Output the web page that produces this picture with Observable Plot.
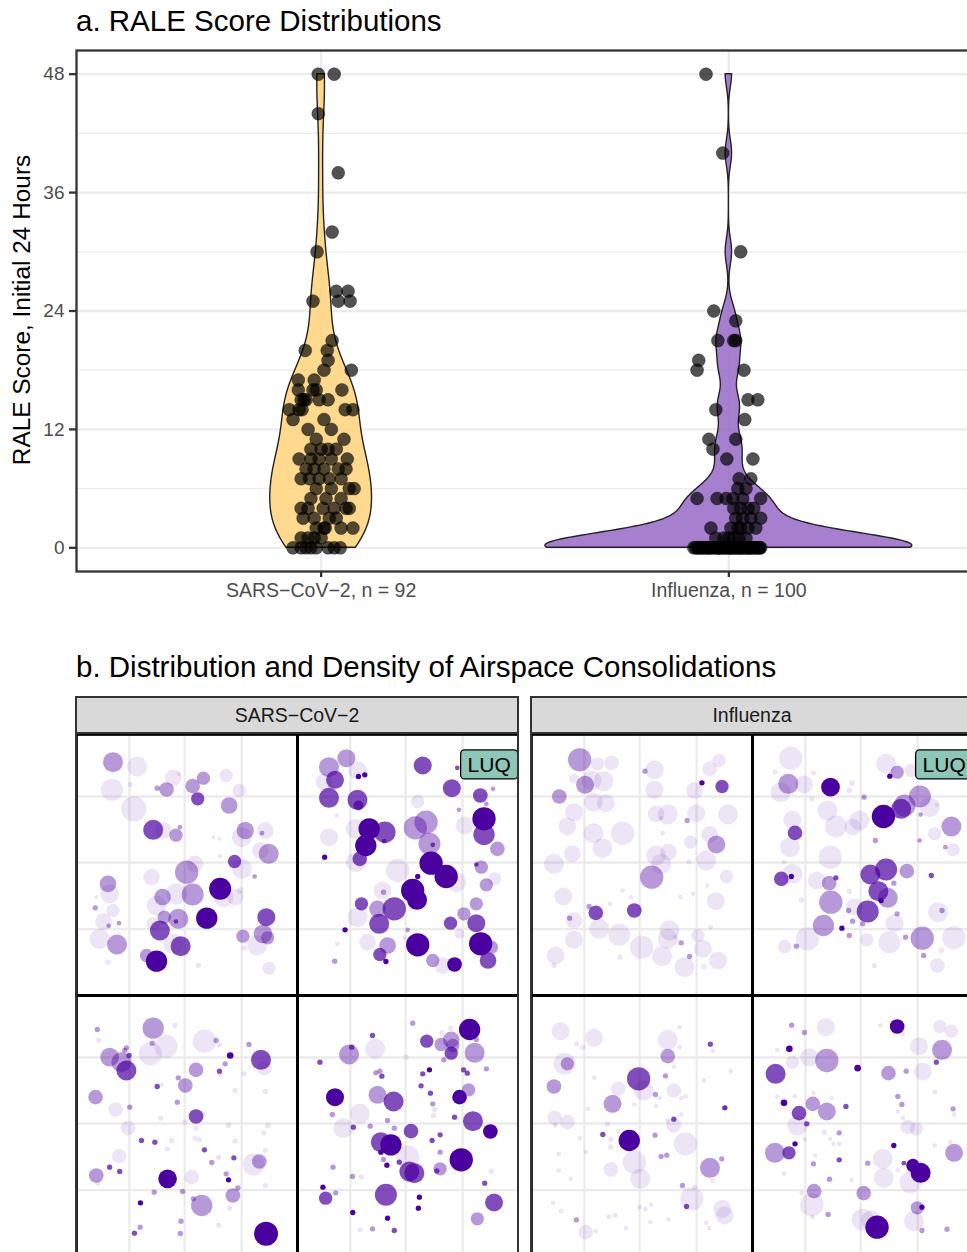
<!DOCTYPE html>
<html>
<head>
<meta charset="utf-8">
<script src="https://cdn.jsdelivr.net/npm/d3@7"></script>
<script src="https://cdn.jsdelivr.net/npm/@observablehq/plot@0.6"></script>
<style>
  html, body { margin: 0; padding: 0; width: 967px; height: 1252px; overflow: hidden; background: #fff; }
  body { position: relative; font-family: "Liberation Sans", Arial, Helvetica, sans-serif; }
  .abs { position: absolute; }
  .abs svg { max-width: none !important; display: block; }
  .title { font-size: 29.5px; line-height: 29px; color: #000; white-space: nowrap; }
  .ytitle { font-size: 24.4px; line-height: 24px; color: #000; white-space: nowrap; transform: translate(-50%, -50%) rotate(-90deg); }
  .strip { box-sizing: border-box; background: #d9d9d9; border: 2px solid #333; font-size: 19.5px; color: #1a1a1a;
           display: flex; align-items: center; justify-content: center; }
  .outer { box-sizing: border-box; border: 2px solid #333; pointer-events: none; }
</style>
</head>
<body>
<div class="abs title" style="left:76px; top:6px;">a. RALE Score Distributions</div>
<div class="abs ytitle" style="left:22px; top:310px;">RALE Score, Initial 24 Hours</div>
<div id="plotA" class="abs" style="left:0; top:0; width:975px;"></div>
<div class="abs title" style="left:76px; top:652px;">b. Distribution and Density of Airspace Consolidations</div>
<div class="abs strip" style="left:75px; top:696px; width:444px; height:38px;">SARS−CoV−2</div>
<div class="abs strip" style="left:530px; top:696px; width:444px; height:38px;">Influenza</div>
<div id="plotB1" class="abs" style="left:76px; top:734px; width:442px;"></div>
<div id="plotB2" class="abs" style="left:531px; top:734px; width:442px;"></div>
<div class="abs outer" style="left:75px; top:732px; width:444px; height:530px;"></div>
<div class="abs outer" style="left:530px; top:732px; width:444px; height:530px;"></div>
<script>
// ---------------- Panel a data ----------------
const groups = ["SARS-CoV-2", "Influenza"];
const xTickLabels = ["SARS−CoV−2, n = 92", "Influenza, n = 100"];
const yTicks = [0, 12, 24, 36, 48];
const yMinorTicks = [6, 18, 30, 42];

const sarsScores = [48,48,44,38,32,30,26,26,25,25,25,20,20,21,19,18,17,17,18,16,16,16,15,14,15,15,14,14,14,13,
  13,12,11,10,10,10,9,9,9,8,9,8,8,7,7,7,7,7,6,6,4,4,4,4,4,4,3,3,2,2,2,1,1,0,0,0,0,0,
  15,15,14,16,12,11,10,9,8,8,6,6,5,5,5,3,3,2,2,1,1,0,0,0];
const sarsJitter = [-0.007,0.032,-0.007,0.042,0.027,-0.010,0.037,0.066,0.042,0.071,-0.020,-0.039,0.015,0.027,0.017,0.074,-0.056,-0.017,0.007,-0.056,
  -0.020,0.051,-0.049,-0.047,-0.005,0.017,-0.078,0.059,0.078,0.007,-0.069,-0.032,0.056,-0.025,0.017,0,0.064,-0.054,-0.025,-0.017,
  0.025,0.007,0.042,-0.049,-0.029,-0.005,0.020,0.049,0.069,0.081,-0.049,-0.032,0.005,0.032,0.061,0.069,-0.017,0.037,0.078,0.007,
  0.010,-0.032,-0.017,-0.069,-0.049,-0.025,0.017,0.047,
  -0.042,-0.037,-0.054,-0.012,0.025,-0.012,0.037,-0.005,0.061,-0.037,0.025,-0.012,0.049,0.012,-0.025,-0.044,0.020,-0.012,0.049,0,-0.049,-0.037,-0.012,0.032];

const fluScores = [48,40,30,24,23,21,21,21,19,18,18,15,15,14,13,11,10,11,9,9,7,7,5,5,5,5,6,5,4,4,
  4,3,2,3,2,2,1,6,5,4,3,3,2,2,1,1,1,1,1,2,
  0,0,0,0,0,0,0,0,0,0,0,0,0,0,0,0,0,0,0,0,0,0,0,0,0,0,0,0,0,0,0,0,0,0,0,0,0,0,0,0,0,0,0,0,0,0,0,0,0,0];
const fluJitter = [-0.056,-0.015,0.029,-0.037,0.017,-0.027,0.012,0.017,-0.074,-0.078,0.037,0.047,0.071,-0.032,0.039,-0.049,-0.039,0.017,-0.005,0.059,
  0.025,0.054,-0.078,-0.029,-0.007,0.010,0.022,0.078,0.012,0.047,0.061,0.078,-0.044,0.034,0.047,0.022,-0.012,0.042,0.034,0.029,
  0.017,0.054,0.005,0.066,0.012,0.042,-0.032,0.025,0,0.029,
  -0.086,-0.081,-0.076,-0.071,-0.066,-0.064,-0.059,-0.054,-0.051,-0.047,-0.042,-0.039,-0.034,-0.029,-0.027,-0.022,-0.020,-0.015,-0.012,-0.007,
  -0.005,0,0.002,0.007,0.010,0.015,0.017,0.022,0.025,0.029,0.032,0.037,0.039,0.044,0.047,0.051,0.054,0.059,0.061,0.066,
  0.069,0.074,0.076,0.078,-0.074,-0.049,-0.025,0.005,0.027,0.049];

// ---------------- Panel b data: [x, y, size, density level] per lung zone ----------------
const gridXTicks = [158, 323, 493];
const gridYTicks = [186, 384, 584];
const zoneLabels = [{zone: "LUQ", x: 637, y: 92}];

const sarsRUQ = [[109,83,30,2],[181,96,30,1],[106,166,33,1],[161,150,8,1],[171,223,38,1],[289,130,25,1],[306,118,7,1],[269,165,22,2],[241,161,8,2],[347,155,22,2],
 [379,131,20,2],[362,193,20,3],[447,123,20,1],[486,168,20,1],[456,213,25,2],[229,286,30,3],[259,288,25,1],[297,302,20,2],[309,278,7,2],[409,308,6,1],
 [427,313,6,1],[504,288,26,2],[494,308,30,1],[554,296,7,2],[564,288,25,1],[574,358,30,2],[549,348,25,1],[472,381,20,3],[429,365,7,1],[494,403,30,1],
 [532,426,7,2],[329,413,35,2],[354,388,25,1],[224,428,25,1],[94,448,25,2],[99,478,28,1],[59,488,6,1],[56,520,8,2],[109,528,20,1],[81,561,25,1],
 [96,574,7,2],[127,566,7,2],[69,613,30,1],[121,630,30,2],[94,683,8,1],[257,488,25,2],[239,513,30,1],[299,478,32,1],[347,480,33,2],[429,463,33,4],
 [439,488,30,1],[489,468,10,1],[474,488,25,1],[262,548,20,2],[304,553,30,2],[297,561,7,3],[249,588,30,3],[229,568,20,1],[389,551,32,4],[311,635,30,3],
 [289,628,30,1],[239,680,32,4],[209,663,20,2],[364,693,8,1],[567,548,27,3],[557,598,28,2],[571,610,20,2],[539,633,30,1],[497,605,20,2],[501,641,8,1],[575,701,20,1]];
const sarsLUQ = [[94,98,30,2],[146,71,27,2],[112,136,27,3],[79,143,25,1],[182,126,8,4],[201,121,8,4],[179,108,28,1],[94,190,30,3],[179,196,30,3],[182,213,15,3],
 [117,243,7,1],[374,93,27,3],[461,161,27,3],[477,100,7,3],[359,201,20,1],[482,226,7,2],[546,183,22,3],[584,163,7,2],[564,208,7,2],[557,253,35,4],
 [557,300,32,3],[499,273,27,1],[597,343,22,2],[214,283,32,4],[261,293,32,3],[204,333,32,4],[259,320,7,3],[174,283,30,1],[94,308,27,1],[186,373,22,3],
 [174,383,30,1],[81,368,8,4],[352,280,35,2],[384,263,35,2],[394,328,33,2],[404,331,7,3],[399,386,35,4],[444,426,35,4],[474,443,30,1],[359,426,8,4],
 [299,408,35,1],[344,468,35,4],[357,496,30,4],[549,398,20,2],[534,390,7,3],[589,433,20,1],[564,451,20,2],[257,473,8,2],[254,468,27,1],[191,508,20,3],
 [239,523,25,2],[289,523,35,3],[179,548,30,1],[244,568,30,3],[534,508,20,2],[497,538,20,2],[457,566,20,3],[534,566,27,3],[484,598,15,1],[329,586,7,2],
 [319,610,7,1],[142,586,8,4],[119,628,7,1],[209,623,25,1],[269,633,25,2],[246,660,20,3],[264,681,8,4],[359,631,35,4],[404,678,20,2],[434,693,25,1],
 [469,690,22,4],[547,628,35,4],[579,638,20,2],[569,678,25,3],[111,680,8,2]];
const sarsRLQ = [[62,102,8,2],[67,135,8,1],[229,98,32,2],[294,90,8,1],[267,153,35,1],[221,175,35,1],[226,143,8,2],[99,185,28,2],[134,200,30,2],[149,225,30,3],
 [144,165,8,2],[157,180,8,3],[149,157,8,2],[382,137,35,1],[417,135,8,2],[427,148,8,1],[459,180,10,4],[515,147,8,2],[551,193,30,3],[561,218,22,1],
 [444,205,8,2],[427,227,8,3],[429,238,7,1],[501,235,8,1],[357,223,22,2],[325,270,22,2],[304,247,8,2],[241,273,8,3],[254,267,7,1],[57,305,22,2],
 [117,342,22,1],[159,335,8,2],[301,320,8,2],[357,363,22,3],[379,355,7,1],[474,285,8,1],[564,288,8,1],[251,368,8,1],[324,380,8,1],[154,398,22,1],
 [357,398,8,1],[454,390,8,1],[571,390,8,1],[559,412,8,1],[194,435,8,3],[234,440,8,3],[284,435,8,1],[271,460,8,1],[354,428,8,1],[367,433,8,1],
 [474,437,8,1],[382,463,8,3],[127,482,22,1],[424,485,8,1],[404,501,8,2],[470,487,8,3],[529,507,33,1],[546,498,22,2],[564,465,8,1],[99,515,8,3],
 [129,528,8,3],[59,540,22,2],[64,563,8,1],[272,550,28,4],[344,545,22,1],[447,535,8,2],[454,553,8,4],[482,577,8,2],[467,600,22,2],[564,570,8,1],
 [232,590,8,2],[317,588,8,2],[349,610,8,2],[374,630,32,2],[457,638,8,1],[191,622,8,4],[312,677,8,2],[190,695,8,2],[173,713,8,3],[310,714,8,2],
 [424,689,8,1],[566,715,36,4]];
const sarsLLQ = [[344,83,8,2],[224,120,8,3],[386,137,20,3],[429,147,20,2],[459,133,25,2],[464,150,20,2],[459,173,20,3],[514,102,32,4],[529,172,30,2],[457,98,8,1],
 [431,112,8,1],[534,132,8,2],[437,193,8,2],[154,177,30,2],[162,155,8,3],[232,160,30,1],[324,185,8,1],[67,200,8,3],[374,235,8,3],[394,223,8,4],
 [234,232,8,2],[246,227,8,2],[252,242,8,3],[496,223,8,3],[507,233,8,3],[564,220,8,2],[369,271,8,3],[397,293,8,3],[112,305,27,4],[239,298,27,2],
 [287,318,30,3],[484,305,22,4],[511,283,20,2],[404,325,8,2],[409,342,8,1],[407,360,8,1],[186,355,30,1],[104,357,8,2],[269,375,8,2],[217,392,8,2],
 [167,395,8,3],[137,398,30,1],[289,398,8,2],[339,407,22,3],[469,365,8,3],[524,377,30,3],[576,408,22,4],[249,440,30,3],[279,448,32,4],[249,470,8,4],
 [329,485,35,1],[402,435,8,3],[426,418,8,3],[426,470,8,2],[257,492,8,2],[267,509,8,4],[304,500,8,3],[334,528,30,3],[349,533,30,3],[426,520,20,2],
 [416,526,8,3],[489,493,35,4],[579,527,8,1],[106,515,8,2],[164,543,8,2],[191,545,8,1],[559,563,8,3],[76,575,8,4],[84,608,20,3],[114,592,8,2],
 [264,598,33,3],[364,605,8,4],[361,638,8,4],[165,651,8,4],[269,668,8,4],[587,621,27,3],[537,670,20,2],[187,703,8,1],[224,700,8,2],[289,705,8,3]];

const fluRUQ = [[144,76,35,2],[197,88,20,1],[239,85,22,1],[127,133,15,1],[160,151,27,2],[179,138,30,1],[215,140,30,1],[83,186,22,2],[185,203,28,1],[222,206,27,1],
 [127,233,27,1],[107,276,27,1],[185,296,30,1],[272,296,35,1],[212,341,30,1],[122,358,25,1],[67,388,30,1],[339,110,8,2],[367,106,28,1],[367,166,27,1],
 [372,238,25,1],[407,240,30,1],[387,251,7,1],[465,258,8,2],[492,236,27,1],[487,168,25,1],[509,145,8,4],[569,156,20,3],[532,103,22,1],[560,78,20,1],
 [587,240,30,1],[532,300,25,1],[552,330,27,2],[475,323,20,1],[392,296,7,1],[372,363,30,1],[409,353,25,1],[387,388,30,1],[359,428,35,2],[522,378,30,1],
 [582,426,20,1],[470,383,7,1],[550,500,27,1],[525,453,7,1],[482,478,7,1],[445,488,7,1],[272,468,7,1],[297,488,7,1],[235,508,7,1],[95,486,27,1],
 [192,535,22,3],[172,516,8,2],[307,528,22,3],[114,551,8,2],[127,558,25,1],[202,583,30,1],[262,601,33,1],[127,616,27,1],[72,663,27,1],[67,693,8,1],
 [329,638,35,1],[390,665,30,1],[412,588,30,1],[407,613,30,1],[447,625,8,2],[429,608,7,1],[497,603,20,1],[512,643,27,1],[472,666,8,2],[457,698,30,1],
 [557,678,27,1],[515,696,8,1],[264,668,8,1],[535,578,7,1]];
const fluLUQ = [[114,71,35,1],[67,113,8,1],[182,115,8,1],[107,148,30,2],[84,173,30,1],[154,150,27,1],[233,158,28,4],[297,146,8,1],[289,168,8,1],[333,188,8,2],
 [177,193,8,1],[399,88,30,1],[432,113,20,2],[410,125,8,4],[474,108,20,1],[391,246,35,4],[444,223,30,3],[454,213,33,2],[500,186,33,2],[529,218,30,1],
 [551,211,7,1],[502,240,7,2],[594,276,30,2],[544,298,20,1],[499,318,7,2],[576,338,7,2],[599,346,20,1],[224,228,30,1],[249,276,33,1],[299,278,25,1],
 [319,258,30,1],[119,256,27,1],[127,295,22,3],[112,338,30,1],[367,318,8,2],[232,368,35,1],[94,383,7,1],[119,418,30,1],[86,433,22,3],[116,426,8,4],
 [192,438,27,1],[229,446,22,2],[249,430,8,3],[147,496,8,1],[234,503,35,2],[289,471,8,1],[287,528,8,2],[212,573,32,2],[267,581,8,4],[299,560,8,2],
 [289,603,8,2],[164,613,35,1],[96,636,20,1],[131,635,8,2],[352,420,30,3],[399,405,33,3],[376,470,30,3],[404,490,30,2],[384,498,8,4],[344,531,33,3],
 [329,568,8,2],[304,518,25,1],[422,446,8,2],[461,410,22,2],[534,423,8,3],[432,538,8,2],[424,566,27,1],[341,616,20,1],[409,623,33,1],[457,608,8,2],
 [507,611,35,2],[554,533,30,1],[566,528,8,2],[601,610,35,1],[511,663,8,2],[552,693,22,1],[364,693,8,1],[564,648,8,1]];
const fluRLQ = [[87,107,27,1],[187,127,27,1],[135,145,8,1],[153,155,8,1],[99,205,33,1],[107,205,20,2],[67,273,22,2],[187,247,7,1],[259,280,22,1],[320,250,35,3],
 [335,285,30,1],[242,325,27,2],[407,133,30,1],[407,182,22,2],[442,95,7,1],[443,155,7,1],[425,213,7,1],[400,241,8,2],[425,285,22,1],[370,297,8,2],
 [383,307,7,1],[447,307,7,1],[460,303,7,1],[372,331,7,1],[307,327,7,1],[534,146,8,3],[542,165,7,1],[595,227,7,1],[515,255,7,1],[577,337,8,3],
 [425,371,8,3],[425,390,22,1],[447,357,7,1],[407,375,7,1],[69,367,22,1],[107,380,22,1],[71,390,7,1],[169,340,7,1],[227,385,8,1],[213,417,8,3],
 [292,435,32,4],[237,432,8,1],[259,408,7,1],[369,419,8,2],[460,445,35,1],[145,428,7,1],[237,455,8,1],[162,469,7,1],[82,475,7,1],[307,500,35,1],
 [325,550,30,1],[237,522,22,1],[387,483,8,2],[404,479,8,2],[533,517,30,2],[568,490,8,2],[540,556,7,1],[81,525,7,1],[117,550,7,1],[479,610,35,1],
 [451,570,8,2],[487,575,8,1],[463,633,8,3],[570,640,27,1],[577,660,27,1],[65,622,7,1],[89,647,7,1],[134,673,8,2],[162,710,22,1],[192,707,7,1],
 [232,663,7,1],[249,660,7,1],[282,698,7,1],[323,635,7,1],[340,641,7,1],[357,627,7,1],[355,680,7,1],[409,672,7,1],[522,682,7,1],[530,698,7,1],[579,337,7,2]];
const fluLLQ = [[117,89,8,2],[155,111,8,2],[219,95,27,1],[110,160,10,4],[74,163,7,1],[119,200,20,1],[169,185,27,1],[222,195,35,2],[69,235,30,3],[94,322,10,4],
 [74,303,7,1],[126,302,7,1],[180,325,22,2],[222,348,27,2],[139,353,22,3],[134,390,30,1],[162,385,8,3],[279,333,8,3],[236,307,7,1],[182,293,7,1],
 [314,218,10,4],[382,90,7,1],[432,93,22,4],[449,115,7,1],[497,152,27,1],[559,93,20,1],[594,107,20,1],[566,163,30,2],[549,200,8,3],[509,228,27,1],
 [406,233,22,2],[459,227,8,2],[434,303,8,2],[446,327,8,2],[434,348,7,1],[449,368,7,1],[464,395,22,1],[489,400,20,1],[544,290,7,1],[599,340,8,2],
 [602,357,7,1],[214,410,8,1],[259,412,8,2],[232,430,7,1],[259,445,7,1],[242,445,7,1],[156,432,7,1],[67,472,30,2],[109,472,20,3],[127,445,8,4],
 [187,480,7,1],[182,505,8,2],[259,493,8,3],[94,535,7,1],[230,551,8,2],[296,553,7,1],[344,503,8,2],[389,490,30,1],[392,547,30,1],[422,450,8,4],
 [452,503,7,3],[479,510,20,4],[502,532,30,4],[472,560,33,1],[544,450,7,1],[602,472,27,2],[591,440,7,1],[434,523,7,1],[184,587,22,2],[177,628,35,1],
 [147,592,7,1],[226,657,8,2],[332,593,22,2],[329,673,33,1],[372,695,35,4],[354,675,30,1],[492,637,20,2],[506,635,8,4],[482,677,30,1],[506,705,8,2],
 [581,701,8,2],[179,665,7,1]];

// ---------------- Panel a ----------------
function violin(values, pos) {
  const n = values.length;
  const sd = d3.deviation(values);
  const iqr = d3.quantile(values, 0.75) - d3.quantile(values, 0.25);
  const bw = 0.9 * Math.min(sd, iqr / 1.34) * Math.pow(n, -0.2);
  const [lo, hi] = d3.extent(values);
  const k = u => Math.exp(-0.5 * u * u) / Math.sqrt(2 * Math.PI);
  return d3.range(512).map(i => {
    const y = lo + (hi - lo) * i / 511;
    return {pos, y, d: d3.sum(values, v => k((y - v) / bw)) / (n * bw)};
  });
}
const vS = violin(sarsScores, 1), vF = violin(fluScores, 2);
const dMax = d3.max([...vS, ...vF], d => d.d);
for (const r of [...vS, ...vF]) { const h = 0.45 * r.d / dMax; r.x1 = r.pos - h; r.x2 = r.pos + h; }
const ptsS = sarsScores.map((s, i) => ({x: 1 + sarsJitter[i], y: s}));
const ptsF = fluScores.map((s, i) => ({x: 2 + fluJitter[i], y: s}));

const grid = {stroke: "#ebebeb", strokeOpacity: 1};
const plotA = Plot.plot({
  width: 975, height: 620,
  marginLeft: 76, marginRight: 2, marginTop: 50, marginBottom: 49,
  style: {fontFamily: "'Liberation Sans', Arial, sans-serif", background: "transparent", maxWidth: "none"},
  x: {domain: [0.4, 2.6]},
  y: {domain: [-2.4, 50.4]},
  marks: [
    Plot.gridY(yMinorTicks, {...grid, strokeWidth: 1.2}),
    Plot.gridY(yTicks, {...grid, strokeWidth: 2.3}),
    Plot.gridX([1, 2], {...grid, strokeWidth: 2.3}),
    Plot.areaX(vS, {y: "y", x1: "x1", x2: "x2", fill: "#FED27A", fillOpacity: 0.85, stroke: "#222", strokeWidth: 1.4}),
    Plot.areaX(vF, {y: "y", x1: "x1", x2: "x2", fill: "#966AC7", fillOpacity: 0.85, stroke: "#222", strokeWidth: 1.4}),
    Plot.dot([...ptsS, ...ptsF], {x: "x", y: "y", r: 6.5, fill: "black", fillOpacity: 0.68, stroke: "black", strokeOpacity: 0.3, strokeWidth: 1}),
    Plot.axisY(yTicks, {label: null, tickSize: 7, tickPadding: 5, fontSize: 19, fill: "#4d4d4d", stroke: "#333", strokeWidth: 2.3}),
    Plot.axisX([1, 2], {label: null, tickSize: 6, tickPadding: 6, fontSize: 19.5, fill: "#4d4d4d", stroke: "#333", strokeWidth: 2.3,
                        tickFormat: d => xTickLabels[d - 1]}),
    Plot.frame({stroke: "#333", strokeWidth: 2.3})
  ]
});
document.getElementById("plotA").append(plotA);

// ---------------- Panel b ----------------
function zoneRows(zones) {
  return Object.entries(zones).flatMap(([zone, pts]) =>
    pts.map(([x, y, r, a]) => ({side: zone[0], vert: zone[1], x, y, r, a})));
}
function lungPlot(zones) {
  const rows = zoneRows(zones);
  const labels = zoneLabels.map(l => ({...l, side: l.zone[0], vert: l.zone[1]}));
  return Plot.plot({
    width: 442, height: 522, margin: 0,
    style: {fontFamily: "'Liberation Sans', Arial, sans-serif", background: "transparent", maxWidth: "none"},
    fx: {domain: ["R", "L"], padding: 0, axis: null},
    fy: {domain: ["U", "L"], padding: 0, axis: null},
    x: {domain: [0, 660], axis: null},
    y: {domain: [0, 783], reverse: true, axis: null},
    r: {type: "linear", domain: [0, 45], range: [0, 15]},
    opacity: {type: "linear", domain: [2 / 3, 4], range: [0, 1]},
    marks: [
      Plot.gridX(gridXTicks, {...grid, strokeWidth: 2.3}),
      Plot.gridY(gridYTicks, {...grid, strokeWidth: 2.3}),
      Plot.dot(rows, {fx: "side", fy: "vert", x: "x", y: "y", r: "r", fill: "#4B00A0", fillOpacity: "a", stroke: "none"}),
      Plot.text(labels, {fx: "side", fy: "vert", x: "x", y: "y", text: "zone", textAnchor: "end", fontSize: 21, fill: "black"}),
      Plot.frame({stroke: "black", strokeWidth: 2.7})
    ]
  });
}
function boxLabels(svg) {
  svg.querySelectorAll("text").forEach(t => {
    if (zoneLabels.some(l => l.zone === t.textContent)) {
      const b = t.getBBox();
      const rect = document.createElementNS("http://www.w3.org/2000/svg", "rect");
      rect.setAttribute("x", b.x - 7);
      rect.setAttribute("y", b.y - 3);
      rect.setAttribute("width", b.width + 14);
      rect.setAttribute("height", b.height + 6);
      rect.setAttribute("rx", 4);
      rect.setAttribute("fill", "#8EC7B7");
      rect.setAttribute("stroke", "black");
      rect.setAttribute("stroke-width", 1.3);
      const tr = t.getAttribute("transform");
      if (tr) rect.setAttribute("transform", tr);
      t.parentNode.insertBefore(rect, t);
    }
  });
}
const b1 = lungPlot({RU: sarsRUQ, LU: sarsLUQ, RL: sarsRLQ, LL: sarsLLQ});
document.getElementById("plotB1").append(b1);
boxLabels(b1);
const b2 = lungPlot({RU: fluRUQ, LU: fluLUQ, RL: fluRLQ, LL: fluLLQ});
document.getElementById("plotB2").append(b2);
boxLabels(b2);
</script>
</body>
</html>
